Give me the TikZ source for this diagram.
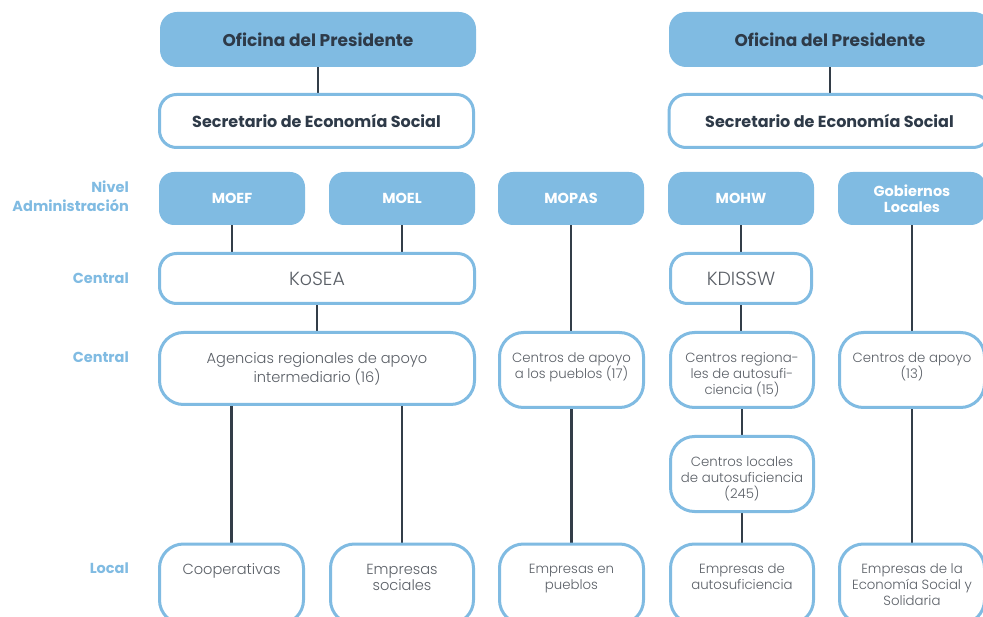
\documentclass[tikz,border=0pt]{standalone}
\usepackage{fontspec}
\setmainfont{Poppins}
\newfontfamily\lightf{Poppins Light}
\newfontfamily\boldf{Poppins Bold}
\usetikzlibrary{backgrounds}
\definecolor{cblue}{RGB}{128,187,226}
\definecolor{cdark}{RGB}{46,58,72}
\definecolor{cgray}{RGB}{90,95,102}
\definecolor{cline}{RGB}{51,61,72}
\newcommand{\tightlines}{\lineskiplimit=-30pt\relax}
\tikzset{
  hdr/.style={fill=cblue, draw=none, rounded corners=17pt, inner sep=0pt,
    font=\boldf\fontsize{17}{19}\selectfont, text=cdark},
  mini/.style={fill=cblue, draw=none, rounded corners=15pt, inner sep=0pt, align=center,
    font=\boldf\fontsize{14.5}{16}\selectfont\tightlines, text=white},
  sbox/.style={fill=white, draw=cblue, line width=3pt, rounded corners=17pt, inner sep=0pt,
    font=\boldf\fontsize{16}{18}\selectfont, text=cdark},
  wbox/.style={fill=white, draw=cblue, line width=3pt, rounded corners=24pt, inner sep=0pt, align=center,
    font=\lightf\fontsize{13.3}{16}\selectfont\tightlines, text=cgray},
  bigtext/.style={font=\lightf\fontsize{14.6}{16}\selectfont\tightlines},
  lbl/.style={anchor=east, align=right, inner sep=0pt,
    font=\boldf\fontsize{14.5}{19}\selectfont\tightlines, text=cblue},
  con/.style={draw=cline, line width=2.8pt},
}
\newcommand{\boxtext}[3][130pt]{\parbox[c][#2][t]{#1}{\centering #3}}
\begin{document}
\begin{tikzpicture}[x=1pt,y=-1pt]
\useasboundingbox (0,0) rectangle (983,617);
\clip (0,0) rectangle (983,617);
% top
\node[hdr, minimum width=316pt, minimum height=55pt] (op1) at (318,39.5) {Oficina del Presidente};
\node[hdr, minimum width=322pt, minimum height=55pt] (op2) at (830,39.5) {Oficina del Presidente};
\node[sbox, minimum width=314pt, minimum height=53pt] (sec1) at (316.5,121) {Secretario de Economía Social};
\node[sbox, minimum width=321pt, minimum height=53pt] (sec2) at (829.5,121) {Secretario de Economía Social};
% ministries
\node[mini, minimum width=146pt, minimum height=53pt] (moef) at (232,198.5) {MOEF};
\node[mini, minimum width=146pt, minimum height=53pt] (moel) at (402,198.5) {MOEL};
\node[mini, minimum width=146pt, minimum height=53pt] (mopas) at (571,198.5) {MOPAS};
\node[mini, minimum width=146pt, minimum height=53pt] (mohw) at (741,198.5) {MOHW};
\node[mini, minimum width=148pt, minimum height=53pt] (gob) at (912,198.5) {Gobiernos\\Locales};
% central
\node[wbox, rounded corners=17pt, minimum width=315pt, minimum height=50pt, font=\lightf\fontsize{19}{21}\selectfont] (kosea) at (317,278.5) {KoSEA};
\node[wbox, rounded corners=17pt, minimum width=141pt, minimum height=50pt, font=\lightf\fontsize{19}{21}\selectfont] (kdis) at (741,278.5) {KDISSW};
\node[wbox, bigtext, minimum width=315pt, minimum height=72pt] (agen) at (317,368.5) {\boxtext[290pt]{32pt}{Agencias regionales de apoyo\\intermediario (16)}};
\node[wbox, minimum width=144pt, minimum height=75pt] (cpue) at (571.5,370) {\boxtext{35pt}{Centros de apoyo\\a los pueblos (17)}};
\node[wbox, minimum width=143pt, minimum height=75pt] (creg) at (742,370) {\boxtext{35pt}{Centros regiona-\\les de autosufi-\\ciencia (15)}};
\node[wbox, minimum width=145pt, minimum height=75pt] (c13) at (912,370) {\boxtext{35pt}{Centros de apoyo\\(13)}};
\node[wbox, minimum width=143pt, minimum height=75pt] (cloc) at (742,474) {\boxtext{35pt}{Centros locales\\de autosuficiencia\\(245)}};
% local
\node[wbox, bigtext, minimum width=144pt, minimum height=80pt] (coop) at (231.5,584) {\boxtext{40pt}{Cooperativas}};
\node[wbox, bigtext, minimum width=143pt, minimum height=80pt] (esoc) at (402,584) {\boxtext{40pt}{Empresas\\sociales}};
\node[wbox, minimum width=144pt, minimum height=80pt] (epue) at (571.5,584) {\boxtext{40pt}{Empresas en\\pueblos}};
\node[wbox, minimum width=143pt, minimum height=80pt] (eaut) at (742,584) {\boxtext{40pt}{Empresas de\\autosuficiencia}};
\node[wbox, minimum width=145pt, minimum height=80pt] (eess) at (912,584) {\boxtext{40pt}{Empresas de la\\Economía Social y\\Solidaria}};
% labels
\node[lbl] (l1) at (129,196) {Nivel\\Administración};
\node[lbl] (l2) at (129,278) {Central};
\node[lbl] (l3) at (129,357) {Central};
\node[lbl] (l4) at (129,568) {Local};
% connectors
\begin{scope}[on background layer]
\draw[con] (op1.south) -- (op1.south |- sec1.north);
\draw[con] (op2.south) -- (op2.south |- sec2.north);
\draw[con] (moef.south) -- (moef.south |- kosea.north);
\draw[con] (moel.south) -- (moel.south |- kosea.north);
\draw[con] (kosea.south) -- (kosea.south |- agen.north);
\draw[con] (coop.north |- agen.south) -- (coop.north);
\draw[con] (esoc.north |- agen.south) -- (esoc.north);
\draw[con] (mopas.south) -- (mopas.south |- cpue.north);
\draw[con] (cpue.south) -- (cpue.south |- epue.north);
\draw[con] (mohw.south) -- (mohw.south |- kdis.north);
\draw[con] (kdis.south) -- (kdis.south |- creg.north);
\draw[con] (creg.south) -- (creg.south |- cloc.north);
\draw[con] (cloc.south) -- (cloc.south |- eaut.north);
\draw[con] (gob.south) -- (gob.south |- c13.north);
\draw[con] (c13.south) -- (c13.south |- eess.north);
\end{scope}
\end{tikzpicture}
\end{document}
